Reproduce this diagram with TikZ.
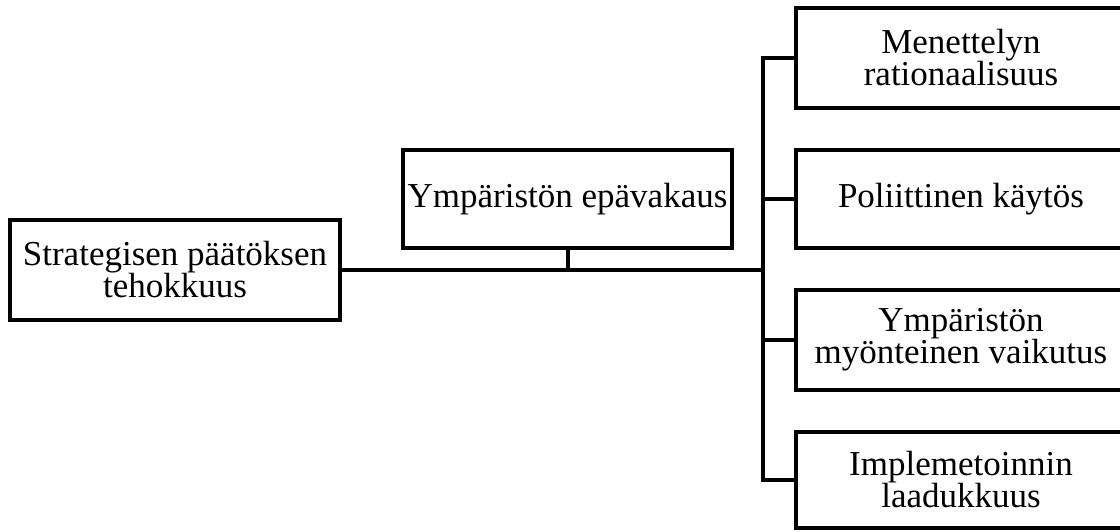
\documentclass[tikz,border=0pt]{standalone}
\usepackage{fontspec}
\setmainfont{Liberation Serif}
\begin{document}
\begin{tikzpicture}[x=1pt,y=-1pt,
  box/.style={draw=black,line width=4pt,fill=white,align=center,inner sep=0pt,
    font=\fontsize{35}{32}\selectfont},
  link/.style={line width=4pt}]
\useasboundingbox (0,0) rectangle (1120,532);
% boxes
\node[box,minimum width=330pt,minimum height=100pt] (eff) at (175,270) {Strategisen päätöksen\\tehokkuus};
\node[box,minimum width=329pt,minimum height=98pt] (env) at (567.5,199) {Ympäristön epävakaus};
\node[box,minimum width=330pt,minimum height=100pt] (r1) at (961,58) {Menettelyn\\rationaalisuus};
\node[box,minimum width=330pt,minimum height=98pt] (r2) at (961,199) {Poliittinen käytös};
\node[box,minimum width=330pt,minimum height=100pt] (r3) at (961,340) {Ympäristön\\myönteinen vaikutus};
\node[box,minimum width=330pt,minimum height=96pt] (r4) at (961,480) {Implemetoinnin\\laadukkuus};
% bus
\coordinate (bt) at (763,58);
\coordinate (bb) at (763,480);
\coordinate (bm) at (763,270);
\coordinate (stub) at (567.5,270);
\draw[link] (eff.east) -- (bm);
\draw[link] (env.south) -- (stub);
\draw[link,line cap=rect] (bt) -- (bb);
\draw[link] (bt) -- (r1.west);
\draw[link] (763,199) -- (r2.west);
\draw[link] (763,340) -- (r3.west);
\draw[link] (bb) -- (r4.west);
\end{tikzpicture}
\end{document}
